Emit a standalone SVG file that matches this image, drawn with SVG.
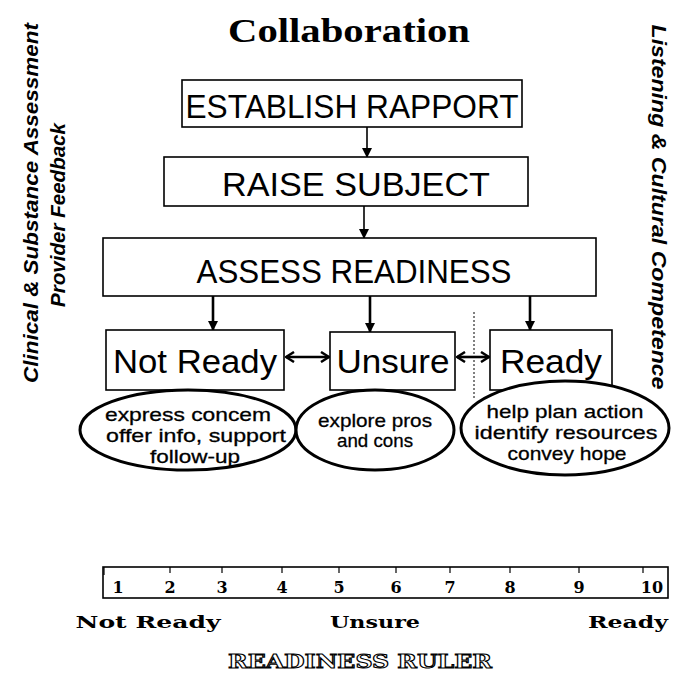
<svg xmlns="http://www.w3.org/2000/svg" width="677" height="676" viewBox="0 0 677 676">
<style>
.box{fill:#fff;stroke:#000;stroke-width:1.6}
.ell{fill:#fff;stroke:#000;stroke-width:3}
.bt{font-family:"Liberation Sans",Arial,sans-serif;font-size:34px;text-anchor:middle;fill:#000}
.et{font-family:"Liberation Sans",Arial,sans-serif;font-size:19px;text-anchor:middle;fill:#000;stroke:#000;stroke-width:0.3}
.side{font-family:"Liberation Sans",Arial,sans-serif;font-size:21px;font-weight:bold;font-style:italic;text-anchor:middle;fill:#000}
.num{font-family:"DejaVu Serif",serif;font-size:16px;font-weight:bold;text-anchor:middle;fill:#000}
.rl{font-family:"DejaVu Serif",serif;font-size:17px;font-weight:bold;text-anchor:middle;fill:#000}
.conn{stroke:#000;fill:none}
</style>
<defs>
<marker id="ah" viewBox="0 0 10 10" refX="9" refY="5" markerWidth="10" markerHeight="10" markerUnits="userSpaceOnUse" orient="auto-start-reverse"><path d="M0,0 L10,5 L0,10 z" fill="#000"/></marker>
<marker id="av" viewBox="0 0 10 12" refX="9" refY="6" markerWidth="10" markerHeight="12" markerUnits="userSpaceOnUse" orient="auto-start-reverse"><path d="M1,1 L9,6 L1,11" fill="none" stroke="#000" stroke-width="2.5"/></marker>
</defs>
<rect width="677" height="676" fill="#fff"/>

<text x="349" y="42" font-family="Liberation Serif,serif" font-size="34" font-weight="bold" text-anchor="middle" textLength="242" lengthAdjust="spacingAndGlyphs">Collaboration</text>

<g id="side-left">
<text class="side" transform="translate(38,203) rotate(-90)" textLength="360" lengthAdjust="spacingAndGlyphs">Clinical &amp; Substance Assessment</text>
<text class="side" transform="translate(65,215) rotate(-90)" textLength="184" lengthAdjust="spacingAndGlyphs">Provider Feedback</text>
</g>
<g id="side-right">
<text class="side" transform="translate(652,207) rotate(90)" textLength="365" lengthAdjust="spacingAndGlyphs">Listening &amp; Cultural Competence</text>
</g>

<g id="connectors">
<line class="conn" x1="367" y1="127" x2="367" y2="157" stroke-width="1.6" marker-end="url(#ah)"/>
<line class="conn" x1="364" y1="206" x2="364" y2="238" stroke-width="1.6" marker-end="url(#ah)"/>
<line class="conn" x1="213" y1="296" x2="213" y2="330" stroke-width="2.6" marker-end="url(#ah)"/>
<line class="conn" x1="370" y1="296" x2="370" y2="332" stroke-width="2.6" marker-end="url(#ah)"/>
<line class="conn" x1="530" y1="296" x2="530" y2="330" stroke-width="2.6" marker-end="url(#ah)"/>
<line class="conn" x1="286" y1="357" x2="329" y2="357" stroke-width="2.6" marker-start="url(#av)" marker-end="url(#av)"/>
<line class="conn" x1="457" y1="357" x2="489" y2="357" stroke-width="2.6" marker-start="url(#av)" marker-end="url(#av)"/>
<line class="conn" x1="474" y1="312" x2="474" y2="398" stroke-width="1" stroke-dasharray="2,2"/>
</g>

<g id="establish">
<rect class="box" x="182" y="80" width="340" height="47"/>
<text class="bt" x="352" y="118" textLength="333" lengthAdjust="spacingAndGlyphs">ESTABLISH RAPPORT</text>
</g>
<g id="raise">
<rect class="box" x="164" y="157" width="364" height="49"/>
<text class="bt" x="356" y="196" font-size="33" textLength="268" lengthAdjust="spacingAndGlyphs">RAISE SUBJECT</text>
</g>
<g id="assess">
<rect class="box" x="103" y="238" width="493" height="58"/>
<text class="bt" x="354" y="283" textLength="315" lengthAdjust="spacingAndGlyphs">ASSESS READINESS</text>
</g>
<g id="notready">
<rect class="box" x="106" y="330" width="178" height="60"/>
<text class="bt" x="195" y="373" font-size="35" textLength="164" lengthAdjust="spacingAndGlyphs">Not Ready</text>
</g>
<g id="unsure">
<rect class="box" x="330" y="332" width="125" height="58"/>
<text class="bt" x="393" y="373" font-size="35" textLength="113" lengthAdjust="spacingAndGlyphs">Unsure</text>
</g>
<g id="ready">
<rect class="box" x="490" y="330" width="122" height="60"/>
<text class="bt" x="551" y="373" font-size="35" textLength="102" lengthAdjust="spacingAndGlyphs">Ready</text>
</g>

<g id="ell-notready">
<ellipse class="ell" cx="188" cy="430" rx="108" ry="40"/>
<text class="et" x="188" y="421" textLength="166" lengthAdjust="spacingAndGlyphs">express concem</text>
<text class="et" x="196" y="442" textLength="180" lengthAdjust="spacingAndGlyphs">offer info, support</text>
<text class="et" x="195" y="463" textLength="90" lengthAdjust="spacingAndGlyphs">follow-up</text>
</g>
<g id="ell-unsure">
<ellipse class="ell" cx="375" cy="430" rx="79" ry="40"/>
<text class="et" x="375" y="427" textLength="114" lengthAdjust="spacingAndGlyphs">explore pros</text>
<text class="et" x="375" y="447" textLength="76" lengthAdjust="spacingAndGlyphs">and cons</text>
</g>
<g id="ell-ready">
<ellipse class="ell" cx="565" cy="428" rx="104" ry="47"/>
<text class="et" x="565" y="418" textLength="157" lengthAdjust="spacingAndGlyphs">help plan action</text>
<text class="et" x="566" y="439" textLength="183" lengthAdjust="spacingAndGlyphs">identify resources</text>
<text class="et" x="567" y="460" textLength="119" lengthAdjust="spacingAndGlyphs">convey hope</text>
</g>

<g id="ruler">
<rect x="103" y="567" width="565" height="31" fill="none" stroke="#000" stroke-width="1.6"/>
<g stroke="#000" stroke-width="1.2">
<line x1="104" y1="567" x2="104" y2="575"/>
<line x1="170" y1="567" x2="170" y2="573"/>
<line x1="222" y1="567" x2="222" y2="573"/>
<line x1="282" y1="567" x2="282" y2="573"/>
<line x1="339" y1="567" x2="339" y2="573"/>
<line x1="396" y1="567" x2="396" y2="573"/>
<line x1="450" y1="567" x2="450" y2="573"/>
<line x1="510" y1="567" x2="510" y2="573"/>
<line x1="579" y1="567" x2="579" y2="573"/>
<line x1="643" y1="567" x2="643" y2="573"/>
</g>
<text class="num" x="118" y="593">1</text>
<text class="num" x="170" y="593">2</text>
<text class="num" x="222" y="593">3</text>
<text class="num" x="282" y="593">4</text>
<text class="num" x="339" y="593">5</text>
<text class="num" x="396" y="593">6</text>
<text class="num" x="450" y="593">7</text>
<text class="num" x="510" y="593">8</text>
<text class="num" x="579" y="593">9</text>
<text class="num" x="652" y="593">10</text>
<text class="rl" x="148" y="628" textLength="145" lengthAdjust="spacingAndGlyphs">Not Ready</text>
<text class="rl" x="375" y="628" textLength="90" lengthAdjust="spacingAndGlyphs">Unsure</text>
<text class="rl" x="628" y="628" textLength="80" lengthAdjust="spacingAndGlyphs">Ready</text>
<text x="360" y="668" font-family="DejaVu Serif,serif" font-size="18" font-weight="bold" text-anchor="middle" fill="#fff" stroke="#000" stroke-width="1" textLength="264" lengthAdjust="spacingAndGlyphs">READINESS RULER</text>
</g>
</svg>
